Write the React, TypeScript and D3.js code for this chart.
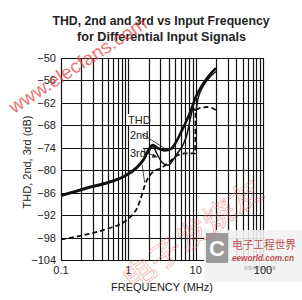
import React, { useEffect, useRef } from 'react';
import * as d3 from 'd3';

// frequency (MHz) / level (dB) pairs
const thdFreq = [0.1, 0.15, 0.25, 0.5, 0.8, 1.0, 1.3, 1.7, 2.0, 2.3, 2.8, 3.5, 4.3, 5.0, 6.0, 7.0, 8.5, 10, 12, 15, 20];
const thdDb = [-86.7, -85.8, -84.6, -83.2, -81.9, -80.9, -79.4, -77, -74.5, -73.3, -74.2, -74.7, -74.3, -72.8, -70, -67.5, -64, -60.5, -57.8, -55.2, -52.7];

const secondFreq = [0.1, 0.25, 0.5, 0.8, 1.0, 1.3, 1.7, 2.0, 2.3, 2.7, 3.2, 3.9, 4.6, 5.5, 6.5, 7.4, 8.4, 9.2, 10, 10.8, 12, 15, 20];
const secondDb = [-87, -84.9, -83.5, -82.1, -81.2, -79.7, -77.3, -75, -73.7, -75.8, -78, -78.7, -77.3, -75.2, -73.2, -70.5, -66, -63.6, -64, -61, -58.6, -55.8, -53.6];

const thirdFreq = [0.1, 0.25, 0.5, 0.8, 1.0, 1.2, 1.36, 1.5, 1.8, 2.3, 3.0, 4.0, 5.4, 7.0, 9.8, 10.0, 12, 15, 20];
const thirdDb = [-98.5, -97.1, -95.6, -94.2, -93, -91.5, -90, -88, -83.5, -80.5, -79.5, -77.9, -76, -75.5, -75.5, -64, -63.3, -63.1, -63.9];

const yTicks = [-50, -56, -62, -68, -74, -80, -86, -92, -98, -104];
const xTicks = [0.1, 1, 10, 100];
const xTickLabels = ['0.1', '1', '10', '100'];

const App: React.FC = () => {
  const svgRef = useRef<SVGSVGElement>(null);

  useEffect(() => {
    const svg = d3.select(svgRef.current);
    svg.selectAll('*').remove();

    const font = 'Liberation Sans Narrow, Liberation Sans, Arial, sans-serif';

    const x = d3.scaleLog().domain([0.1, 100]).range([61, 263]);
    const y = d3.scaleLinear().domain([-104, -50]).range([260, 58]);

    svg.append('rect').attr('width', 302).attr('height', 300).attr('fill', '#fff');

    // title
    const title = svg.append('g').attr('font-family', font).attr('font-weight', 'bold').attr('font-size', 13).attr('fill', '#222').attr('text-anchor', 'middle');
    title.append('text').attr('x', 161).attr('y', 25).attr('textLength', 217).attr('lengthAdjust', 'spacingAndGlyphs')
      .text('THD, 2nd and 3rd vs Input Frequency');
    title.append('text').attr('x', 161.5).attr('y', 41).attr('textLength', 169).attr('lengthAdjust', 'spacingAndGlyphs')
      .text('for Differential Input Signals');

    // grid
    const grid = svg.append('g').attr('stroke', '#111').attr('stroke-width', 1.2);
    const minor: number[] = [];
    [0.1, 1, 10].forEach((d) => { for (let k = 1; k <= 9; k++) minor.push(d * k); });
    minor.push(100);
    grid.selectAll('line.v').data(minor).enter().append('line')
      .attr('x1', (d) => Math.round(x(d)) + 0.5).attr('x2', (d) => Math.round(x(d)) + 0.5)
      .attr('y1', y(-50)).attr('y2', y(-104));
    grid.selectAll('line.h').data(yTicks).enter().append('line')
      .attr('x1', x(0.1)).attr('x2', x(100))
      .attr('y1', (d) => Math.round(y(d)) + 0.5).attr('y2', (d) => Math.round(y(d)) + 0.5);

    // watermark logo (under the tick labels, as in the reference)
    const logo = svg.append('g');
    logo.append('rect').attr('x', 204).attr('y', 230).attr('width', 98).attr('height', 52).attr('fill', '#f2f2f2').attr('opacity', 0.9);
    logo.append('rect').attr('x', 206).attr('y', 233).attr('width', 22).attr('height', 30).attr('fill', '#9a9a9a');
    logo.append('text').attr('x', 217).attr('y', 256).attr('text-anchor', 'middle').attr('font-family', 'Liberation Sans, Arial, sans-serif')
      .attr('font-weight', 'bold').attr('font-size', 22).attr('fill', '#fff').text('C');
    logo.append('text').attr('x', 232).attr('y', 249).attr('font-family', 'Noto Sans CJK SC, sans-serif').attr('font-size', 11)
      .attr('fill', '#c0504d').attr('textLength', 64).attr('lengthAdjust', 'spacingAndGlyphs').text('电子工程世界');
    logo.append('text').attr('x', 232).attr('y', 261).attr('font-family', 'Liberation Sans, Arial, sans-serif').attr('font-size', 9)
      .attr('font-style', 'italic').attr('font-weight', 'bold').attr('fill', '#c0504d')
      .attr('textLength', 62).attr('lengthAdjust', 'spacingAndGlyphs').text('eeworld.com.cn');
    logo.append('text').attr('x', 244).attr('y', 270).attr('font-family', 'Noto Sans CJK SC, sans-serif').attr('font-size', 4)
      .attr('fill', '#999').text('转载电子设计之家');

    // tick labels
    const labels = svg.append('g').attr('font-family', font).attr('font-size', 11).attr('fill', '#222');
    labels.selectAll('text.y').data(yTicks).enter().append('text')
      .attr('x', 56).attr('y', (d) => y(d) + 4).attr('text-anchor', 'end')
      .text((d) => '\u2212' + Math.abs(d));
    labels.selectAll('text.x').data(xTicks).enter().append('text')
      .attr('x', (d) => x(d)).attr('y', 274).attr('text-anchor', 'middle')
      .text((d, i) => xTickLabels[i]);
    labels.append('text').attr('x', 162).attr('y', 291).attr('text-anchor', 'middle').text('FREQUENCY (MHz)');
    labels.append('text').attr('transform', 'translate(31,162) rotate(-90)').attr('text-anchor', 'middle')
      .text('THD, 2nd, 3rd (dB)');

    // curves
    const line = d3.line<[number, number]>()
      .x((d) => x(d[0])).y((d) => y(d[1]))
      .curve(d3.curveMonotoneX);
    const zip = (f: number[], v: number[]) => f.map((d, i) => [d, v[i]] as [number, number]);

    svg.append('path').attr('d', line(zip(thirdFreq, thirdDb)))
      .attr('fill', 'none').attr('stroke', '#111').attr('stroke-width', 1.8).attr('stroke-dasharray', '5,3');
    svg.append('path').attr('d', line(zip(secondFreq, secondDb)))
      .attr('fill', 'none').attr('stroke', '#111').attr('stroke-width', 1.5);
    svg.append('path').attr('d', line(zip(thdFreq, thdDb)))
      .attr('fill', 'none').attr('stroke', '#111').attr('stroke-width', 2.6);

    // annotations
    const ann = svg.append('g').attr('font-family', font).attr('font-size', 11).attr('fill', '#222');
    ann.append('rect').attr('x', 127).attr('y', 114).attr('width', 21).attr('height', 11).attr('fill', '#fff');
    ann.append('rect').attr('x', 129).attr('y', 129).attr('width', 17).attr('height', 11).attr('fill', '#fff');
    ann.append('rect').attr('x', 129).attr('y', 147).attr('width', 14).attr('height', 11).attr('fill', '#fff');
    ann.append('text').attr('x', 128).attr('y', 124).text('THD');
    ann.append('text').attr('x', 130).attr('y', 139).text('2nd');
    ann.append('text').attr('x', 130).attr('y', 157).text('3rd');
    const arrows = svg.append('g').attr('stroke', '#222').attr('stroke-width', 0.8).attr('fill', 'none');
    arrows.append('line').attr('x1', x(1.6)).attr('y1', y(-70.3)).attr('x2', x(3.7)).attr('y2', y(-74.5));
    arrows.append('line').attr('x1', x(1.55)).attr('y1', y(-74.8)).attr('x2', x(2.6)).attr('y2', y(-76.3));
    arrows.append('line').attr('x1', x(1.6)).attr('y1', y(-78.5)).attr('x2', x(1.75)).attr('y2', y(-83.3));
    svg.append('path').attr('fill', '#222')
      .attr('d', `M${x(2.75)},${y(-76.6)} l-5,-4 l-1,4 z`);

    // red site watermarks
    svg.append('text').attr('font-family', 'Liberation Sans, Arial, sans-serif').attr('font-size', 19)
      .attr('fill', '#e23a3a').attr('opacity', 0.7).attr('textLength', 160).attr('lengthAdjust', 'spacingAndGlyphs')
      .attr('transform', 'translate(14,114) rotate(-33)').text('www.elecfans.com');
    svg.append('text').attr('font-family', 'Noto Sans CJK SC, sans-serif').attr('font-size', 30)
      .attr('fill', 'none').attr('stroke', '#e46060').attr('stroke-width', 0.6).attr('opacity', 0.6)
      .attr('textLength', 165).attr('lengthAdjust', 'spacingAndGlyphs')
      .attr('transform', 'translate(132,292) rotate(-36)').text('电子发烧友');
  }, []);

  return <svg ref={svgRef} width={302} height={300} style={{ position: 'absolute', left: 0, top: 0 }} />;
};

export default App;
